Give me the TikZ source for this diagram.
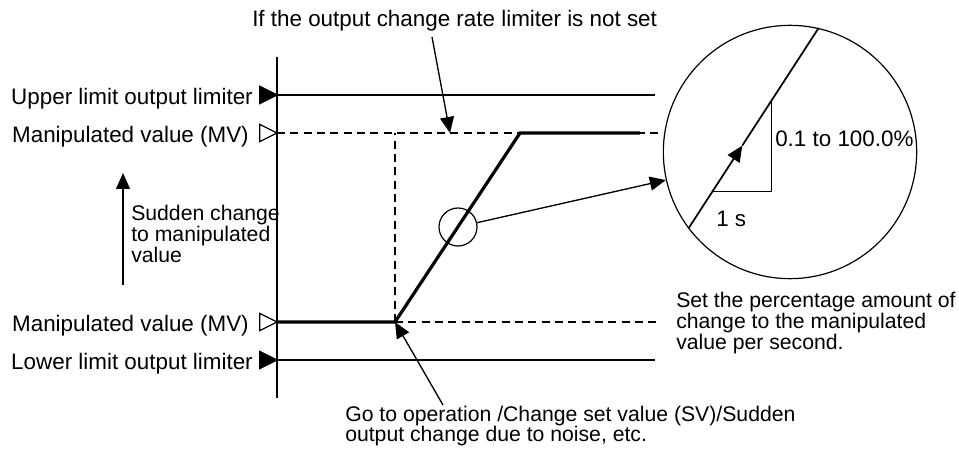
\documentclass[tikz,border=0pt]{standalone}
\usepackage{fontspec}
\setmainfont{Liberation Sans}
\usetikzlibrary{arrows.meta,positioning,calc,shapes.geometric}

\begin{document}
\begin{tikzpicture}[
    x=0.75pt, y=-0.75pt,
    lbl/.style={inner sep=0pt, align=left, font=\fontsize{16.8}{15.5}\selectfont},
    sml/.style={lbl, font=\fontsize{15.9}{15.5}\selectfont},
    mark0/.style={isosceles triangle, isosceles triangle stretches, draw=black, line width=1pt,
                  inner sep=0pt, outer sep=0pt, minimum width=13pt, minimum height=13pt, anchor=apex},
    markfull/.style={mark0, fill=black},
    markopen/.style={mark0, fill=white},
    limline/.style={line width=1pt},
    dline/.style={line width=1pt, dash pattern=on 6pt off 4pt},
    mvline/.style={line width=2.4pt},
    ring/.style={circle, draw=black, line width=0.9pt, inner sep=0pt},
    flow/.style={-{Triangle[length=12pt,width=10.5pt]}, line width=1pt}
]
\useasboundingbox (0,0) rectangle (959,463);

\coordinate (axT) at (277,57);
\coordinate (axB) at (277,398);
\coordinate (p0) at (395,322);
\coordinate (p1) at (520,133);

\draw[line width=1.6pt] (axT) -- (axB);
\draw[limline] (277,95) -- (655,95);
\draw[limline] (277,360) -- (655,360);
\draw[dline] (277,133) -- (658,133);
\draw[dline] (p0) -- (658,322);
\draw[dline] (p0) -- (p0 |- p1);
\draw[mvline] (277,322) -- (p0) -- (p1) -- (640,133);

\node[lbl, anchor=base east] (lU) at (253,105) {Upper limit output limiter};
\node[lbl, anchor=base east] (lM1) at (249,142.5) {Manipulated value (MV)};
\node[lbl, anchor=base east] (lM0) at (249,331.5) {Manipulated value (MV)};
\node[lbl, anchor=base east] (lL) at (253,369) {Lower limit output limiter};
\node[markfull] (mU) at (277,95) {};
\node[markopen] (mM1) at (277,133) {};
\node[markopen] (mM0) at (277,322) {};
\node[markfull] (mL) at (277,360) {};

\node[sml, anchor=west] (jump) at (131,234) {Sudden change\\to manipulated\\value};
\coordinate (sA) at (123,285);
\coordinate (sB) at (123,173);
\draw[flow] (sA) -- (sB);

\node[lbl, anchor=base west] (note) at (252,26.5) {If the output change rate limiter is not set};
\coordinate (nA) at (432,37);
\coordinate (nB) at (450,133);
\draw[flow] (nA) -- (nB);

\node[sml, anchor=west] (cause) at (345,426) {Go to operation /Change set value (SV)/Sudden\\output change due to noise, etc.};
\coordinate (gA) at (443,405);
\draw[flow] (gA) -- (p0);

\node[ring, minimum size=28.5pt] (spot) at (458,227) {};
\node[ring, minimum size=190pt] (zoom) at (790,152) {};
\draw[flow] (spot) -- (zoom);

\coordinate (tip) at ($(zoom.217)!0.414!(zoom.77)$);
\coordinate (h0) at ($(zoom.217)!0.185!(zoom.77)$);
\coordinate (h1) at ($(zoom.217)!0.64!(zoom.77)$);
\draw[flow, line width=1.3pt] (zoom.217) -- (tip);
\draw[line width=1.3pt] (tip) -- (zoom.77);
\draw[limline] (h0) -| (h1);
\node[lbl, anchor=base west] (rate) at (775,147) {0.1 to 100.0\%};
\node[lbl, anchor=base west] (sec) at (716,227) {1 s};

\node[sml, anchor=west] (hint) at (676,323) {Set the percentage amount of\\change to the manipulated\\value per second.};
\end{tikzpicture}
\end{document}
